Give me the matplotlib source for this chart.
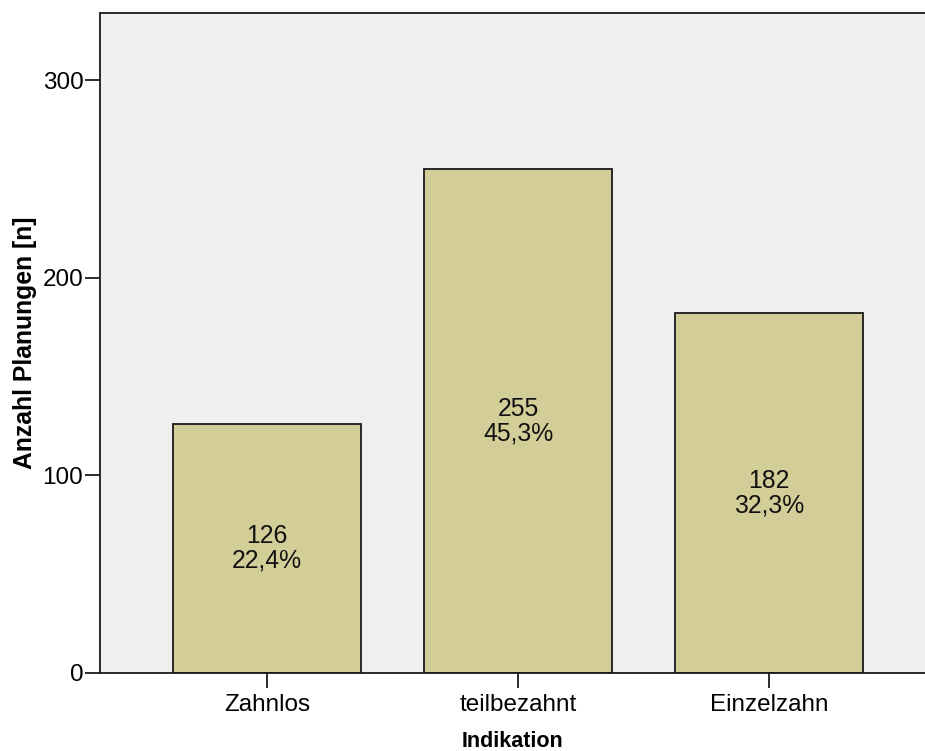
import matplotlib
matplotlib.use("Agg")
import matplotlib.pyplot as plt

# Planungen je Indikation
categories = ["Zahnlos", "teilbezahnt", "Einzelzahn"]
counts = [126, 255, 182]
percents = ["22,4%", "45,3%", "32,3%"]
yticks = [0, 100, 200, 300]

plt.rcParams["font.family"] = ["Liberation Sans", "DejaVu Sans"]

fig = plt.figure(figsize=(9.25, 7.51), dpi=100)
ax = fig.add_axes([0.1081, 0.1039, 0.8919, 0.8788])
ax.set_facecolor("#efefef")

x = list(range(len(categories)))
bars = ax.bar(x, counts, width=0.75, color="#d3ce98", edgecolor="#1a1a1a",
              linewidth=1.3, zorder=2)

for xi, c, p in zip(x, counts, percents):
    ax.text(xi, c / 2, f"{c}\n{p}", ha="center", va="center", fontsize=17.8,
            linespacing=1.03, color="#111111", zorder=3)

ax.set_xlim(-0.665, 2.62)
ax.set_ylim(0, 334)
ax.set_xticks(x)
ax.set_xticklabels(categories, fontsize=17.5)
ax.set_yticks(yticks)
ax.set_yticklabels([str(t) for t in yticks], fontsize=17.5)
ax.tick_params(axis="both", direction="out", length=11, width=1.3,
               color="#1a1a1a", pad=1)
ax.tick_params(axis="x", pad=4)

for side in ["left", "bottom", "top"]:
    ax.spines[side].set_linewidth(1.3)
    ax.spines[side].set_color("#1a1a1a")
ax.spines["right"].set_visible(False)

ax.set_xlabel("Indikation", fontsize=15.5, fontweight="bold", labelpad=11)
ax.set_ylabel("Anzahl Planungen [n]", fontsize=17.8, fontweight="bold", labelpad=4)

fig.savefig("out.png", dpi=100)
